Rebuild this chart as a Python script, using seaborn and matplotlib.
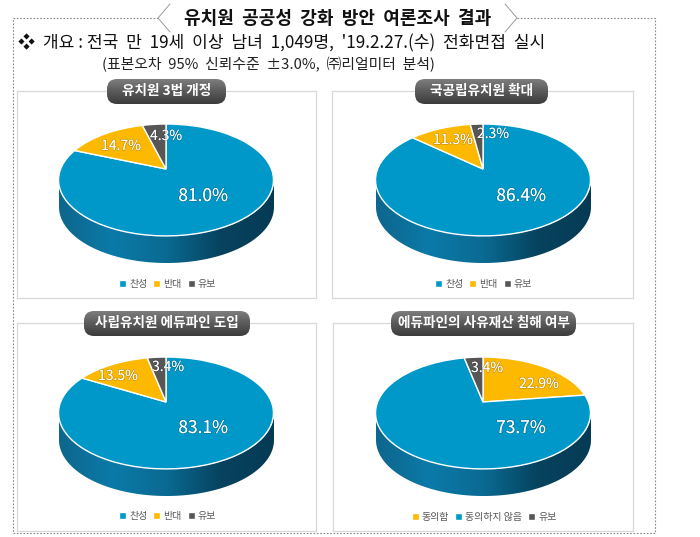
import numpy as np
import matplotlib
matplotlib.use("Agg")
import matplotlib.pyplot as plt
import seaborn as sns
from matplotlib.colors import LinearSegmentedColormap
from matplotlib.patches import FancyBboxPatch, PathPatch
from matplotlib.path import Path
from matplotlib.transforms import Transform, ScaledTranslation
import matplotlib.patheffects as pe

# values
titles = ["유치원 3법 개정", "국공립유치원 확대", "사립유치원 에듀파인 도입", "에듀파인의 사유재산 침해 여부"]
labels_1 = ["찬성", "반대", "유보"]
labels_2 = ["찬성", "반대", "유보"]
labels_3 = ["찬성", "반대", "유보"]
labels_4 = ["동의함", "동의하지 않음", "유보"]
values_1 = [81.0, 14.7, 4.3]
values_2 = [86.4, 11.3, 2.3]
values_3 = [83.1, 13.5, 3.4]
values_4 = [22.9, 73.7, 3.4]

BLUE, YELLOW, GREY = "#0098c8", "#fdb900", "#565656"
colors_1 = [BLUE, YELLOW, GREY]
colors_4 = [YELLOW, BLUE, GREY]

# layout in image pixels
W, H = 700, 537
boxes = [(17, 91, 316, 298), (332, 91, 633, 298), (17, 323, 316, 531), (333, 323, 633, 531)]
pivots = [(166, 169), (483, 169), (166, 402), (483, 402)]
pills = [(107, 79, 226, 104), (415, 79, 548, 104), (84, 311, 250, 336), (391, 311, 576, 336)]
text_pos = [
    [(203, 196), (121, 146), (166, 136)],
    [(521, 196), (453, 140), (493, 134)],
    [(203, 428), (118, 376), (168, 367)],
    [(539, 384), (521, 428), (487, 368)],
]
legend_y = [284, 284, 516, 517]

sns.set_theme(style="white")
plt.rcParams["font.family"] = ["Noto Sans CJK KR", "DejaVu Sans"]

side_cmap = LinearSegmentedColormap.from_list(
    "side", ["#0e668c", "#0b7aa8", "#0a6a92", "#06435f", "#063a54"])
pill_cmap = LinearSegmentedColormap.from_list("pill", ["#7d7d7d", "#5a5a5a", "#3c3c3c"])


class Tilt(Transform):
    # puts the unit pie on a tilted disc, the pivot sits above the ellipse centre
    input_dims = 2
    output_dims = 2

    def __init__(self, px, py, a=105.4, b=53.8, k=0.196):
        super().__init__()
        self.px, self.py, self.a, self.b, self.k = px, py, a, b, k

    def transform_non_affine(self, xy):
        xy = np.asarray(xy, dtype=float)
        w = 1 + self.k * xy[:, 1]
        return np.column_stack([self.px + self.a * xy[:, 0] / w, self.py - self.b * xy[:, 1] / w])


def pixel_axes(x0, y0, x1, y1, **kw):
    ax = fig.add_axes([x0 / W, 1 - y1 / H, (x1 - x0) / W, (y1 - y0) / H], **kw)
    return ax


def draw_pie(box, pivot, values, labels, colors, pos, leg_y):
    x0, y0, x1, y1 = box
    px, py = pivot
    ax = pixel_axes(x0, y0, x1, y1)

    # side of the disc
    cx, cy, ra, rb, depth = px + 0.5, py + 11, 107.5, 56, 27
    t = np.linspace(np.pi, 2 * np.pi, 120)
    rim = np.column_stack([cx + ra * np.cos(t), cy - rb * np.sin(t)])
    bottom = rim[::-1] + [0, depth]
    side = Path(np.vstack([rim, bottom, rim[:1]]), closed=True)
    im = ax.imshow(np.linspace(0, 1, 256)[None, :], cmap=side_cmap, aspect="auto",
                   extent=(cx - ra, cx + ra, cy + rb + depth, cy))
    im.set_clip_path(PathPatch(side, transform=ax.transData))

    wedges, _ = ax.pie(values, colors=colors, startangle=90, counterclock=False)
    ax.set_aspect("auto")
    ax.set_xlim(x0, x1)
    ax.set_ylim(y1, y0)
    ax.set_xticks([])
    ax.set_yticks([])
    ax.set_frame_on(True)
    for s in ax.spines.values():
        s.set_color("#d9d9d9")
        s.set_linewidth(0.9)
    for w in wedges:
        w.set_transform(Tilt(px, py) + ax.transData)

    for v, (tx, ty) in zip(values, pos):
        big = v > 50
        ax.text(tx, ty, f"{v:.1f}%", ha="center", va="center", color="white",
                fontsize=12.5 if big else 10, fontweight="medium",
                path_effects=[pe.withStroke(linewidth=1, foreground="#00000033")])

    ax.legend(wedges, labels, loc="center", ncol=3, frameon=False, fontsize=7.2,
              labelcolor="#595959", handlelength=0.7, handleheight=0.7, handletextpad=0.3,
              columnspacing=0.6, bbox_to_anchor=((x0 + x1) / 2 - x0 + 1, y1 - leg_y),
              bbox_transform=ScaledTranslation(x0 / 100, (H - y1) / 100, fig.dpi_scale_trans))


fig = plt.figure(figsize=(W / 100, H / 100), dpi=100)

# page decoration in pixel coordinates
deco = pixel_axes(0, 0, W, H)
deco.set_xlim(0, W)
deco.set_ylim(H, 0)
deco.axis("off")
dash = dict(color="#8a8a8a", lw=0.8, ls=(0, (1.5, 1.5)))
deco.plot([158, 13, 13, 655, 655, 517], [18, 18, 533, 533, 18, 18], **dash)
deco.plot([170, 158, 170], [4, 18, 32], color="#9a9a9a", lw=0.7)
deco.plot([505, 517, 505], [4, 18, 32], color="#9a9a9a", lw=0.7)
deco.text(338, 18, "유치원  공공성  강화  방안  여론조사  결과", ha="center", va="center",
          fontsize=13, fontweight="bold", color="#111111")
deco.text(18, 43, "❖  개요 : 전국  만  19세  이상  남녀  1,049명,  '19.2.27.(수)  전화면접  실시",
          ha="left", va="center", fontsize=12.3, fontweight="light", color="#111111")
deco.text(102, 65, "(표본오차  95%  신뢰수준  ±3.0%,  ㈜리얼미터  분석)", ha="left", va="center",
          fontsize=10.7, fontweight="light", color="#222222")

draw_pie(boxes[0], pivots[0], values_1, labels_1, colors_1, text_pos[0], legend_y[0])
draw_pie(boxes[1], pivots[1], values_2, labels_2, colors_1, text_pos[1], legend_y[1])
draw_pie(boxes[2], pivots[2], values_3, labels_3, colors_1, text_pos[2], legend_y[2])
draw_pie(boxes[3], pivots[3], values_4, labels_4, colors_4, text_pos[3], legend_y[3])

# title pills go above the panel frames
top = pixel_axes(0, 0, W, H)
top.set_xlim(0, W)
top.set_ylim(H, 0)
top.axis("off")
top.patch.set_alpha(0)
for (x0, y0, x1, y1), name in zip(pills, titles):
    im = top.imshow(np.linspace(0, 1, 64)[:, None], cmap=pill_cmap, aspect="auto",
                    extent=(x0, x1, y1, y0))
    patch = FancyBboxPatch((x0 + 8, y0 + 8), x1 - x0 - 16, y1 - y0 - 16,
                           boxstyle="round,pad=8,rounding_size=10", fc="none", ec="none",
                           transform=top.transData)
    top.add_patch(patch)
    im.set_clip_path(patch)
    top.text((x0 + x1) / 2, (y0 + y1) / 2, name, ha="center", va="center", color="white",
             fontsize=9.8, fontweight="bold")
top.set_xlim(0, W)
top.set_ylim(H, 0)

fig.savefig("out.png", dpi=100)
